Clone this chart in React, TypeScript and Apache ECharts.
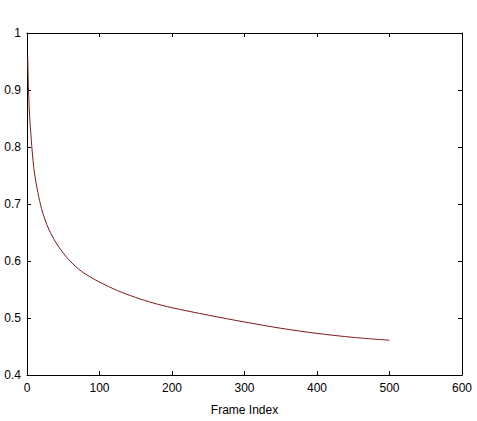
import React, { useEffect, useRef } from "react";
import * as echarts from "echarts";

const frameIndex = [1, 2, 3, 4, 5, 7, 10, 15, 20, 25, 30, 40, 50, 60, 75, 90, 100, 125, 150, 175, 200, 250, 300, 350, 400, 450, 500];
const values = [0.958, 0.905, 0.87, 0.845, 0.828, 0.795, 0.757, 0.72, 0.692, 0.672, 0.656, 0.632, 0.614, 0.599, 0.582, 0.57, 0.563, 0.548, 0.536, 0.526, 0.518, 0.505, 0.493, 0.482, 0.473, 0.466, 0.461];
const xName = "Frame Index";

export default function App() {
  const ref = useRef<HTMLDivElement>(null);
  useEffect(() => {
    if (!ref.current) return;
    const chart = echarts.init(ref.current, null, { renderer: "svg" });
    const font = "Liberation Sans, Arial, sans-serif";
    const axisCommon = {
      axisLine: { show: true, onZero: false, lineStyle: { color: "#000", width: 1 } },
      axisTick: { show: true, inside: true, length: 4, lineStyle: { color: "#000" } },
      splitLine: { show: false },
    };
    chart.setOption({
      animation: false,
      backgroundColor: "#fff",
      grid: { left: 27, right: 15, top: 33, bottom: 46, show: false },
      xAxis: [
        {
          type: "value",
          min: 0,
          max: 600,
          interval: 100,
          position: "bottom",
          name: xName,
          nameLocation: "middle",
          nameGap: 29,
          nameTextStyle: { color: "#000", fontSize: 12, fontFamily: font },
          axisLabel: { color: "#000", fontSize: 12, fontFamily: font, margin: 7 },
          ...axisCommon,
        },
        {
          type: "value",
          min: 0,
          max: 600,
          interval: 100,
          position: "top",
          axisLabel: { show: false },
          ...axisCommon,
        },
      ],
      yAxis: [
        {
          type: "value",
          min: 0.4,
          max: 1,
          interval: 0.1,
          position: "left",
          axisLabel: { color: "#000", fontSize: 12, fontFamily: font, margin: 6 },
          ...axisCommon,
        },
        {
          type: "value",
          min: 0.4,
          max: 1,
          interval: 0.1,
          position: "right",
          axisLabel: { show: false },
          ...axisCommon,
        },
      ],
      series: [
        {
          type: "line",
          data: frameIndex.map((x, i) => [x, values[i]]),
          smooth: 0.3,
          showSymbol: false,
          lineStyle: { color: "#801818", width: 1 },
          xAxisIndex: 0,
          yAxisIndex: 0,
        },
      ],
    });
    return () => chart.dispose();
  }, []);
  return (
    <div
      ref={ref}
      style={{ position: "fixed", left: 0, top: 0, width: 477, height: 421, background: "#fff" }}
    />
  );
}
